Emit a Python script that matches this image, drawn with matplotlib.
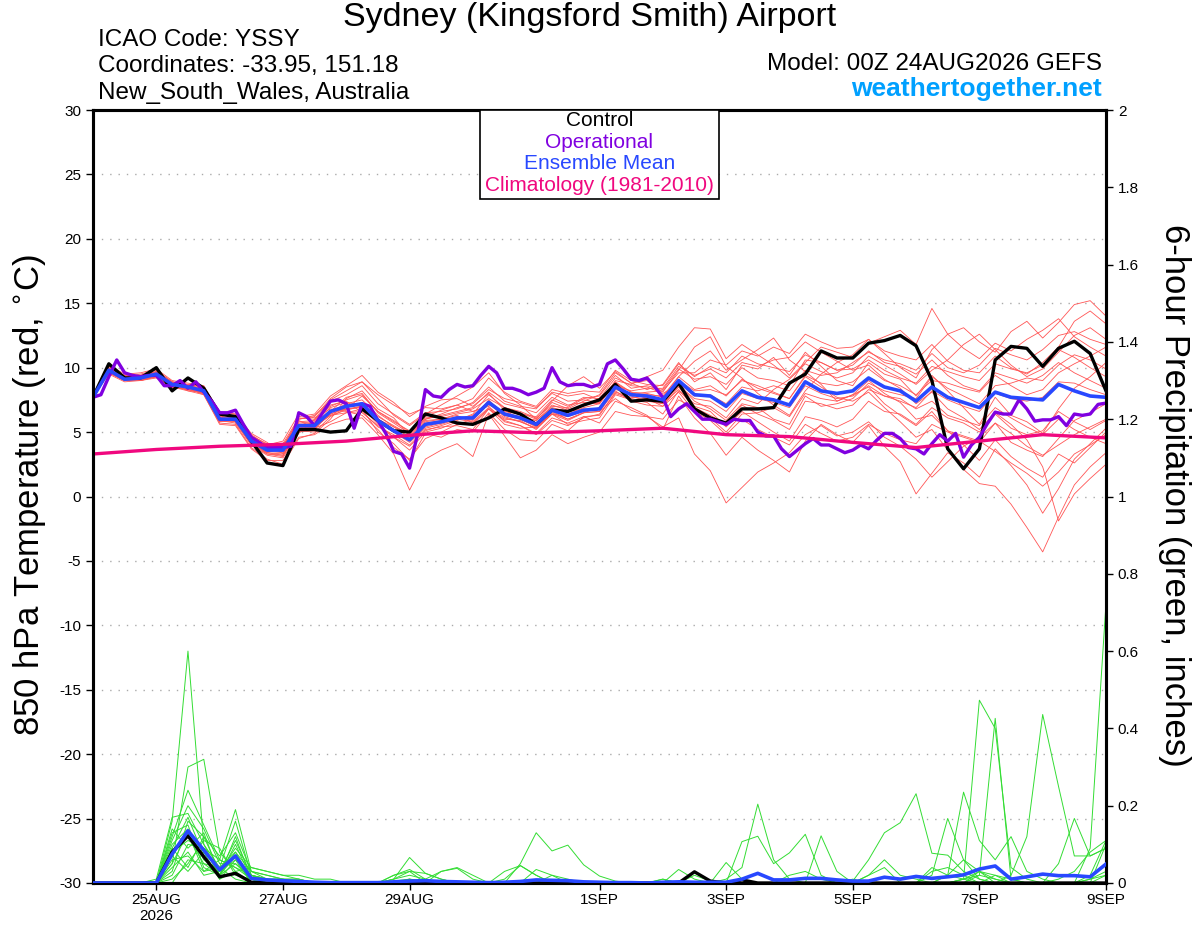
import numpy as np
import matplotlib.pyplot as plt
from matplotlib.patches import Rectangle

plt.rcParams['font.family'] = ['Liberation Sans', 'DejaVu Sans']
plt.rcParams['axes.unicode_minus'] = False

# ---------------------------------------------------------------
# data (6-hourly, 00Z 24AUG -> 00Z 9SEP)
# ---------------------------------------------------------------
tick_days = [1, 3, 5, 8, 10, 12, 14, 16]
tick_labels = ['25AUG\n2026', '27AUG', '29AUG', '1SEP', '3SEP', '5SEP', '7SEP', '9SEP']

# control run, 850 hPa temperature
control_t = [7.7, 10.3, 9.2, 9.2, 10.0, 8.2, 9.2, 8.4, 6.4, 6.2, 4.3, 2.6, 2.4,
             5.2, 5.2, 5.0, 5.1, 6.8, 5.9, 5.1, 5.0, 6.4, 6.1, 5.7, 5.6, 6.1,
             6.8, 6.4, 5.6, 6.7, 6.6, 7.1, 7.5, 8.7, 7.4, 7.5, 7.4, 8.8, 6.8,
             6.1, 5.7, 6.8, 6.8, 6.9, 8.8, 9.5, 11.3, 10.75, 10.75, 11.9, 12.1, 12.5,
             11.7, 9.0, 3.7, 2.15, 3.7, 10.6, 11.65, 11.5, 10.1, 11.5, 12.05, 11.1, 8.2]

# ensemble mean, 850 hPa temperature
mean_t = [7.7, 9.8, 9.1, 9.2, 9.5, 8.7, 8.5, 8.2, 6.0, 6.0, 4.3, 3.6, 3.6,
          5.5, 5.5, 6.6, 7.0, 7.2, 5.9, 5.1, 4.4, 5.6, 5.8, 6.1, 6.1, 7.3,
          6.4, 6.1, 5.6, 6.7, 6.3, 6.7, 6.8, 8.5, 7.9, 7.8, 7.5, 9.0, 7.9,
          7.8, 7.0, 8.2, 7.7, 7.5, 7.1, 8.9, 8.2, 8.0, 8.2, 9.2, 8.5, 8.2,
          7.4, 8.5, 7.7, 7.3, 6.9, 8.1, 7.7, 7.6, 7.5, 8.7, 8.2, 7.8, 7.7]

# operational run (3-hourly)
oper_t = [7.7, 7.9, 9.3, 10.6, 9.6, 9.4, 9.3, 9.4,
          9.4, 8.6, 8.6, 9.0, 8.4, 8.9, 8.1, 7.4,
          6.5, 6.5, 6.7, 5.6, 4.6, 4.2, 3.8, 3.8,
          3.8, 3.9, 6.5, 6.2, 5.5, 6.5, 7.4, 7.5,
          7.2, 5.3, 7.2, 7.0, 5.9, 4.9, 3.5, 3.3,
          2.2, 4.8, 8.3, 7.8, 7.7, 8.3, 8.7, 8.5,
          8.6, 9.4, 10.1, 9.6, 8.4, 8.4, 8.2, 7.9,
          8.1, 8.4, 10.0, 8.9, 8.6, 8.7, 8.7, 8.5,
          8.7, 10.3, 10.6, 9.9, 9.1, 9.0, 9.2, 8.5,
          7.7, 6.2, 6.8, 7.2, 6.6, 6.0, 6.0, 5.8,
          5.6, 6.0, 5.9, 5.9, 5.0, 4.7, 4.7, 3.7,
          3.1, 3.6, 4.1, 4.5, 4.0, 4.0, 3.7, 3.4,
          3.6, 4.0, 3.7, 4.35, 4.9, 4.9, 4.5, 3.8,
          3.7, 3.3, 4.1, 4.8, 4.3, 4.9, 3.05, 4.0,
          4.6, 5.65, 6.55, 6.4, 6.4, 7.5, 6.8, 5.85,
          5.95, 5.95, 6.2, 5.5, 6.4, 6.3, 6.4, 7.15,
          7.25]

# climatology (1981-2010), daily
clim_t = [3.3, 3.65, 3.9, 4.05, 4.3, 4.75, 5.1, 4.95, 5.1,
          5.3, 4.8, 4.65, 4.2, 3.8, 4.3, 4.8, 4.55]

# ensemble members, 850 hPa temperature
members_t = [
    [7.8, 9.9, 9.4, 9.0, 9.3, 8.5, 8.3, 8.0, 6.3, 5.8, 4.0, 3.2, 3.0,
     4.9, 6.0, 7.5, 8.2, 8.9, 7.6, 6.3, 5.5, 6.4, 7.1, 7.8, 8.5, 9.6,
     8.0, 7.1, 6.0, 7.4, 8.6, 9.3, 8.4, 9.7, 8.8, 9.0, 8.1, 9.8, 11.6,
     12.4, 10.1, 9.2, 8.0, 7.1, 6.3, 8.2, 9.5, 10.4, 11.0, 12.2, 11.1, 10.0,
     9.2, 11.4, 12.6, 13.1, 12.0, 11.2, 12.8, 13.6, 12.3, 13.5, 14.9, 15.2, 14.0],
    [7.9, 9.6, 9.0, 9.1, 9.7, 8.9, 8.6, 8.4, 5.8, 6.2, 4.5, 3.9, 3.9,
     5.9, 5.3, 5.8, 6.5, 6.8, 5.0, 4.1, 2.8, 4.9, 4.6, 5.2, 5.0, 6.5,
     5.2, 4.4, 4.3, 5.6, 5.1, 6.2, 5.7, 7.4, 6.9, 6.3, 5.2, 7.8, 6.1,
     4.9, 3.2, 4.6, 3.6, 2.8, 1.9, 4.3, 5.6, 4.8, 4.2, 5.5, 3.9, 2.7,
     0.2, 1.8, 3.4, 2.6, 1.5, 3.7, 2.4, 0.9, -1.3, 0.6, 2.9, 4.1, 5.3],
    [7.6, 9.7, 9.2, 9.4, 9.6, 8.8, 8.2, 8.1, 6.1, 5.9, 4.1, 3.4, 3.8,
     5.8, 5.9, 7.1, 7.4, 6.5, 5.5, 4.6, 3.9, 5.1, 5.5, 5.9, 6.4, 7.9,
     6.9, 6.5, 6.0, 7.3, 6.8, 7.4, 7.9, 9.6, 8.8, 8.3, 8.7, 10.4, 8.9,
     9.6, 8.3, 10.2, 9.9, 10.8, 9.4, 11.2, 10.1, 9.0, 8.6, 10.4, 9.5, 9.1,
     7.8, 9.4, 8.2, 6.9, 5.6, 7.7, 6.3, 5.8, 4.9, 6.8, 8.4, 9.3, 10.4],
    [7.8, 10.1, 9.3, 9.0, 9.2, 8.4, 8.7, 8.5, 6.6, 6.4, 4.9, 4.2, 3.3,
     5.1, 5.0, 6.2, 6.8, 7.8, 6.6, 5.9, 5.0, 6.2, 6.7, 7.1, 6.6, 7.0,
     5.8, 5.5, 4.8, 5.9, 5.5, 6.1, 6.4, 8.0, 7.6, 7.9, 7.8, 9.3, 10.5,
     11.3, 9.8, 10.6, 11.4, 12.3, 10.6, 9.7, 8.7, 7.4, 7.9, 8.5, 7.2, 6.3,
     5.5, 6.6, 5.1, 4.0, 2.8, 4.4, 3.1, 2.2, 1.5, 3.3, 2.6, 3.8, 5.0],
    [7.7, 9.5, 8.9, 9.0, 9.4, 8.6, 8.4, 7.9, 5.7, 5.6, 3.8, 2.9, 2.5,
     4.5, 4.9, 6.0, 7.6, 8.2, 6.8, 6.1, 4.7, 5.8, 6.0, 6.3, 5.7, 6.8,
     6.0, 5.9, 5.2, 6.4, 5.6, 5.9, 6.1, 7.9, 7.5, 7.3, 6.4, 8.2, 7.2,
     7.0, 6.1, 7.6, 7.2, 8.3, 9.1, 10.3, 9.7, 9.2, 9.6, 10.9, 10.2, 9.5,
     8.7, 9.8, 10.6, 11.8, 12.6, 11.4, 10.2, 9.3, 9.9, 11.2, 12.5, 13.1, 12.2],
    [7.8, 9.9, 9.1, 9.3, 9.5, 8.8, 8.5, 8.3, 6.2, 6.1, 4.4, 3.7, 3.5,
     6.2, 6.4, 7.8, 8.6, 9.4, 8.1, 7.3, 6.2, 7.0, 7.5, 7.6, 7.0, 8.0,
     6.7, 6.0, 5.4, 6.6, 6.0, 6.5, 6.6, 8.2, 7.4, 7.1, 7.0, 8.5, 7.0,
     6.6, 5.4, 6.6, 5.8, 5.0, 4.3, 6.2, 5.9, 5.4, 6.0, 7.4, 6.6, 6.4,
     5.6, 6.9, 6.1, 5.7, 5.0, 6.4, 5.3, 4.8, 5.1, 6.6, 5.8, 5.2, 5.9],
    [7.7, 9.8, 9.2, 9.3, 9.6, 8.7, 8.5, 8.2, 6.0, 6.1, 4.2, 3.5, 3.4,
     5.3, 5.6, 6.4, 6.9, 7.3, 6.0, 5.4, 4.9, 6.0, 6.3, 6.6, 6.9, 8.1,
     7.2, 6.9, 6.5, 7.7, 7.1, 7.3, 7.2, 8.8, 8.1, 8.0, 7.7, 9.3, 8.3,
     8.6, 7.8, 9.1, 8.4, 8.0, 7.6, 9.3, 8.5, 7.7, 7.4, 8.1, 6.9, 5.8,
     4.6, 5.2, 3.6, 2.1, 1.0, 0.8, -0.6, -2.4, -4.3, -1.6, 0.9, 2.3, 3.4],
    [7.9, 10.2, 9.5, 9.6, 9.9, 9.0, 8.8, 8.6, 6.5, 6.6, 4.8, 4.0, 4.3,
     6.4, 6.1, 6.8, 6.6, 6.3, 5.2, 3.8, 2.9, 4.5, 5.0, 5.6, 6.0, 7.5,
     6.3, 6.2, 5.9, 7.0, 6.9, 7.6, 7.8, 9.4, 8.4, 8.6, 8.3, 9.9, 9.1,
     9.3, 8.7, 10.0, 9.2, 9.0, 8.6, 10.6, 10.4, 9.8, 10.2, 11.3, 10.4, 10.1,
     9.5, 10.6, 9.4, 8.6, 8.2, 9.6, 9.2, 8.8, 9.4, 10.4, 9.6, 9.0, 8.4],
    [7.7, 9.6, 9.0, 9.0, 9.3, 8.5, 8.2, 7.9, 5.6, 5.5, 3.7, 2.8, 2.8,
     4.6, 4.8, 5.6, 6.0, 6.1, 4.8, 3.3, 0.5, 2.9, 3.6, 4.1, 3.1, 6.4,
     4.7, 3.0, 3.6, 4.8, 4.1, 4.6, 5.0, 6.6, 6.3, 6.2, 6.0, 7.5, 6.9,
     6.3, 5.6, 7.1, 6.4, 5.9, 5.2, 7.4, 7.2, 6.8, 7.1, 8.3, 7.8, 7.4,
     6.9, 8.2, 7.5, 7.0, 6.6, 8.0, 7.6, 7.4, 7.7, 8.9, 8.8, 8.3, 7.9],
    [7.8, 9.7, 9.3, 9.5, 9.8, 8.9, 8.6, 8.2, 5.9, 6.0, 4.6, 3.8, 3.7,
     5.7, 5.8, 6.9, 7.3, 7.1, 6.2, 5.5, 4.8, 5.9, 6.0, 6.4, 6.6, 7.1,
     6.6, 6.4, 6.2, 7.5, 7.0, 7.7, 7.6, 9.2, 8.6, 8.5, 8.0, 8.7, 7.4,
     6.8, 5.9, 7.2, 6.9, 6.0, 5.6, 7.8, 7.0, 7.2, 7.6, 8.8, 8.2, 7.9,
     7.6, 9.3, 8.4, 7.8, 7.2, 8.6, 8.8, 9.2, 9.0, 10.2, 11.0, 10.6, 9.9],
    [7.8, 9.9, 9.2, 9.1, 9.4, 8.6, 8.4, 8.1, 6.1, 5.9, 4.2, 3.3, 3.2,
     5.0, 5.2, 6.5, 7.2, 7.5, 6.3, 5.4, 4.6, 5.7, 5.9, 6.2, 5.9, 7.2,
     6.3, 6.0, 5.5, 6.8, 6.4, 6.9, 7.2, 9.0, 8.7, 9.3, 9.8, 11.6, 13.1,
     13.0, 10.7, 11.8, 11.0, 10.2, 9.2, 10.4, 11.6, 11.2, 10.8, 11.9, 12.4, 12.9,
     11.8, 14.6, 12.6, 11.5, 10.7, 11.9, 11.3, 12.2, 12.9, 13.8, 12.4, 11.6, 10.9],
    [7.6, 9.7, 9.0, 9.2, 9.5, 8.7, 8.6, 8.3, 6.2, 5.8, 4.3, 3.6, 3.7,
     5.6, 5.7, 6.7, 7.1, 7.0, 5.8, 5.0, 4.3, 5.4, 5.7, 6.0, 6.3, 7.4,
     6.5, 6.2, 5.9, 6.9, 6.6, 6.8, 6.6, 7.6, 6.7, 6.2, 5.4, 6.1, 3.3,
     2.0, -0.5, 0.7, 1.9, 2.6, 3.4, 4.8, 5.5, 4.7, 5.0, 5.8, 4.6, 3.9,
     2.9, 1.5, 2.7, 3.9, 4.6, 5.7, 4.2, 3.6, 3.1, 4.5, 5.9, 6.5, 7.2],
    [7.7, 10.0, 9.3, 9.3, 9.6, 8.8, 8.5, 8.1, 6.0, 6.2, 4.4, 3.8, 3.9,
     6.0, 6.3, 7.4, 7.9, 8.6, 7.2, 6.4, 5.6, 6.5, 6.6, 6.8, 7.3, 8.5,
     7.4, 7.0, 6.8, 8.1, 7.8, 8.0, 7.5, 8.9, 7.8, 7.4, 7.2, 8.6, 7.6,
     7.4, 6.6, 8.0, 7.6, 7.3, 6.9, 8.6, 8.0, 7.6, 7.8, 8.6, 7.8, 7.6,
     6.8, 7.4, 6.3, 5.9, 5.5, 6.9, 6.1, 5.4, 4.8, 6.0, 5.2, 4.6, 4.1],
    [7.8, 9.8, 9.1, 9.2, 9.4, 8.6, 8.3, 8.0, 5.9, 5.7, 4.0, 3.3, 3.1,
     5.2, 5.4, 6.3, 6.5, 6.6, 5.4, 4.8, 4.0, 5.2, 5.4, 5.5, 5.2, 6.8,
     5.9, 5.5, 4.9, 6.1, 5.7, 6.2, 6.3, 8.1, 7.7, 7.6, 7.3, 8.8, 7.8,
     7.9, 7.2, 8.5, 8.2, 8.6, 8.2, 9.8, 9.4, 9.6, 10.4, 11.2, 10.6, 10.3,
     9.8, 11.1, 10.0, 9.6, 10.2, 11.5, 11.0, 10.6, 11.4, 12.5, 12.8, 12.2, 11.8],
    [7.7, 9.6, 9.0, 9.1, 9.3, 8.6, 8.4, 8.3, 6.3, 6.3, 4.7, 4.1, 4.0,
     5.6, 5.5, 6.3, 6.7, 7.0, 5.9, 5.0, 4.2, 5.3, 5.6, 6.0, 5.8, 6.9,
     6.1, 5.8, 5.3, 6.4, 5.9, 6.5, 6.9, 8.6, 8.2, 8.4, 8.4, 10.1, 9.4,
     9.9, 9.2, 10.4, 10.1, 10.6, 10.8, 12.0, 11.2, 10.5, 9.8, 10.2, 9.1, 8.4,
     7.2, 8.1, 6.8, 6.1, 5.2, 6.5, 5.6, 4.4, 2.3, -1.9, 0.2, 1.4, 2.5],
    [7.8, 9.8, 9.2, 9.2, 9.5, 8.7, 8.6, 8.4, 6.3, 6.3, 4.6, 3.9, 4.1,
     6.1, 6.0, 7.0, 7.5, 7.9, 6.6, 5.8, 5.1, 6.1, 6.2, 6.5, 6.8, 7.6,
     6.9, 6.6, 6.1, 7.1, 6.7, 7.1, 7.3, 8.9, 8.1, 7.6, 7.0, 8.1, 6.6,
     5.9, 4.8, 6.0, 5.2, 4.6, 4.0, 5.6, 4.9, 4.3, 4.6, 5.6, 4.9, 4.4,
     4.1, 5.6, 5.0, 4.6, 4.2, 5.7, 4.9, 3.9, 3.2, 4.0, 4.8, 5.4, 6.0],
    [7.6, 9.9, 9.3, 9.4, 9.7, 8.8, 8.5, 8.0, 5.8, 5.9, 4.1, 3.4, 3.3,
     5.4, 5.3, 6.6, 7.7, 8.0, 6.5, 5.7, 4.9, 6.0, 6.4, 6.9, 7.2, 8.3,
     7.6, 7.3, 6.9, 8.0, 7.4, 7.5, 7.3, 8.7, 7.9, 8.1, 8.2, 9.6, 9.6,
     10.6, 10.2, 11.3, 10.9, 11.6, 11.1, 12.6, 12.0, 11.5, 11.6, 12.2, 11.3, 10.9,
     10.6, 11.8, 10.5, 9.8, 9.6, 10.9, 10.0, 9.5, 10.4, 11.6, 13.6, 14.4, 13.4],
    [7.8, 9.7, 9.0, 9.3, 9.5, 8.7, 8.4, 8.2, 6.1, 6.0, 4.4, 3.7, 3.6,
     5.5, 5.5, 6.6, 6.8, 6.9, 5.6, 4.6, 3.6, 5.0, 5.3, 5.8, 5.6, 6.8,
     5.6, 5.3, 5.4, 6.4, 6.2, 6.6, 6.8, 8.3, 8.0, 7.6, 7.2, 8.3, 6.9,
     6.1, 5.0, 6.4, 6.5, 6.9, 6.2, 8.0, 7.6, 7.4, 7.9, 9.0, 8.0, 7.3,
     6.0, 6.3, 5.1, 4.7, 4.3, 3.5, 2.6, 1.8, 0.8, 1.9, 3.3, 4.0, 4.8],
    [7.7, 10.0, 9.4, 9.4, 9.7, 8.9, 8.7, 8.5, 6.4, 6.4, 4.7, 3.9, 3.9,
     6.0, 6.2, 7.6, 8.5, 8.9, 7.9, 7.1, 6.4, 6.9, 6.8, 7.1, 7.6, 9.2,
     8.1, 7.4, 7.0, 8.3, 8.0, 8.2, 8.1, 9.8, 9.0, 8.7, 8.6, 10.3, 9.3,
     10.1, 9.6, 10.9, 10.3, 10.0, 9.7, 11.0, 10.4, 9.8, 9.9, 10.6, 9.8, 9.2,
     8.8, 10.1, 9.7, 9.3, 9.0, 10.3, 9.9, 9.6, 10.2, 11.4, 10.8, 10.0, 9.3],
    [7.8, 9.8, 9.1, 9.1, 9.3, 8.5, 8.3, 8.1, 5.9, 5.8, 4.2, 3.4, 3.2,
     5.2, 5.4, 6.4, 6.8, 7.0, 5.8, 5.2, 4.5, 5.6, 5.7, 6.1, 6.0, 7.2,
     6.2, 5.8, 5.3, 6.5, 6.0, 6.5, 6.6, 8.4, 7.9, 7.7, 7.5, 9.0, 8.2,
     8.3, 7.9, 9.0, 8.6, 8.1, 7.6, 9.4, 8.8, 8.6, 8.9, 9.9, 9.0, 8.6,
     7.9, 9.0, 8.8, 8.4, 8.1, 9.4, 8.6, 7.9, 8.3, 9.6, 10.3, 10.9, 11.6],
]

# 6-hour precipitation (inches)
control_p = [0, 0, 0, 0, 0, .08, .122, .068, .016, .025, .002, 0, 0,
             0, 0, 0, 0, 0, 0, 0, 0, 0, 0, 0, 0, 0,
             0, 0, 0, 0, 0, 0, 0, 0, 0, 0, 0, 0, .029,
             .005, 0, .008, 0, 0, 0, 0, 0, 0, 0, 0, 0, 0,
             0, 0, 0, 0, 0, 0, 0, 0, 0, 0, 0, 0, 0]

mean_p = [0, 0, 0, 0, 0, .075, .135, .085, .034, .07, .012, .008, .006,
          .004, .002, .001, .001, .001, .001, .003, .005, .006, .004, .003, .002, .001,
          .002, .004, .008, .007, .006, .003, .002, .001, .001, 0, .002, .003, .002,
          .002, .002, .01, .025, .008, .008, .012, .012, .008, .005, .005, .015, .01,
          .017, .012, .016, .021, .036, .044, .01, .016, .023, .019, .019, .016, .049]

members_p = [
    [0, 0, 0, 0, 0, .16, .60, .10, .02, .05, .01, 0, 0,
     0, 0, 0, 0, 0, 0, .01, .02, .01, 0, 0, 0, 0,
     0, 0, 0, 0, 0, 0, 0, 0, 0, 0, 0, 0, 0,
     0, 0, 0, 0, 0, 0, 0, 0, 0, .01, 0, 0, 0,
     0, 0, 0, .01, .02, .01, 0, 0, 0, 0, 0, 0, .02],
    [0, 0, 0, 0, 0, .05, .30, .32, .08, .03, .04, .03, .02,
     .02, .01, .01, 0, 0, 0, 0, .01, 0, 0, 0, 0, 0,
     0, 0, 0, 0, 0, 0, 0, 0, 0, 0, 0, .035, .01,
     0, 0, 0, 0, 0, 0, 0, 0, 0, 0, 0, 0, 0,
     0, 0, .02, .06, .03, .01, 0, 0, 0, 0, 0, .01, .02],
    [0, 0, 0, 0, 0, .12, .24, .15, .06, .19, .03, .01, .01,
     0, 0, 0, 0, 0, 0, .02, .035, .01, .03, .038, .01, 0,
     .01, .045, .02, 0, 0, 0, 0, 0, 0, 0, 0, 0, 0,
     0, .053, .01, 0, 0, 0, 0, 0, 0, .005, .06, .13, .156,
     .231, .077, .072, .03, .01, 0, 0, 0, 0, 0, 0, .01, .03],
    [0, 0, 0, 0, .01, .17, .18, .10, .04, .16, .02, .01, 0,
     0, 0, 0, 0, 0, 0, .005, .01, .005, 0, 0, 0, 0,
     0, .05, .13, .083, .098, .047, .018, .005, 0, 0, 0, 0, 0,
     0, 0, 0, 0, 0, 0, 0, 0, 0, 0, 0, 0, 0,
     0, 0, .02, .235, .11, .06, .12, .03, .01, 0, 0, 0, .10],
    [0, 0, 0, 0, 0, .03, .16, .12, .07, .13, .03, .02, .01,
     .01, 0, 0, 0, 0, 0, 0, 0, 0, 0, 0, 0, 0,
     0, 0, 0, 0, 0, 0, 0, 0, 0, 0, 0, 0, 0,
     0, .01, .04, .204, .06, .01, 0, 0, 0, 0, 0, 0, 0,
     0, 0, 0, .01, .473, .40, .04, .01, 0, 0, 0, .02, .11],
    [0, 0, 0, 0, 0, .08, .12, .05, .02, .10, .01, 0, 0,
     0, 0, 0, 0, 0, 0, .01, .03, .025, .01, 0, 0, 0,
     0, 0, 0, 0, 0, 0, 0, 0, 0, 0, 0, 0, 0,
     0, 0, .107, .121, .05, .078, .126, .02, 0, 0, 0, 0, 0,
     0, 0, 0, 0, 0, 0, 0, 0, 0, 0, 0, 0, 0],
    [0, 0, 0, 0, 0, .02, .10, .09, .06, .04, .02, .01, .01,
     .01, 0, 0, 0, 0, 0, 0, 0, 0, 0, 0, 0, 0,
     .03, .045, .02, 0, 0, 0, 0, 0, 0, 0, 0, 0, 0,
     0, 0, 0, 0, 0, 0, 0, .122, .03, 0, 0, 0, 0,
     0, .02, .167, .06, .01, 0, 0, 0, 0, 0, 0, 0, 0],
    [0, 0, 0, 0, 0, .14, .09, .13, .02, .07, 0, 0, 0,
     0, 0, 0, 0, 0, 0, 0, 0, 0, 0, 0, 0, 0,
     0, 0, 0, .02, .01, 0, 0, 0, 0, 0, 0, 0, 0,
     0, 0, 0, 0, 0, 0, 0, 0, 0, 0, 0, 0, 0,
     0, 0, 0, 0, .02, .426, .01, 0, 0, 0, 0, .09, .723],
    [0, 0, 0, 0, 0, .06, .07, .03, .04, .08, .01, 0, 0,
     0, 0, 0, 0, 0, 0, .01, .066, .025, .01, 0, 0, 0,
     0, 0, 0, 0, 0, 0, 0, 0, 0, 0, 0, 0, 0,
     0, 0, 0, 0, 0, 0, 0, 0, 0, 0, 0, 0, 0,
     0, 0, 0, 0, 0, 0, .02, .12, .436, .25, .07, .07, .09],
    [0, 0, 0, 0, 0, .10, .14, .06, .03, .11, .02, .01, 0,
     0, 0, 0, 0, 0, 0, 0, .01, 0, 0, 0, 0, 0,
     0, 0, 0, 0, 0, 0, 0, 0, 0, 0, 0, 0, 0,
     0, 0, 0, 0, 0, 0, 0, 0, 0, 0, 0, 0, 0,
     0, 0, 0, 0, 0, 0, 0, 0, 0, .05, .167, .07, .09],
    [0, 0, 0, 0, 0, .01, .05, .11, .09, .02, .01, 0, 0,
     0, 0, 0, 0, 0, 0, 0, 0, 0, .03, .04, .02, 0,
     0, 0, 0, 0, 0, 0, 0, 0, 0, 0, 0, 0, 0,
     0, 0, 0, 0, 0, 0, 0, 0, 0, 0, .02, .06, .02,
     .01, 0, 0, 0, 0, 0, 0, 0, 0, 0, 0, 0, 0],
    [0, 0, 0, 0, 0, .09, .17, .07, .01, .06, 0, 0, 0,
     0, 0, 0, 0, 0, 0, 0, 0, 0, 0, 0, 0, 0,
     0, 0, 0, 0, 0, 0, 0, 0, 0, 0, 0, 0, 0,
     0, 0, 0, 0, 0, 0, 0, 0, 0, 0, 0, 0, 0,
     0, 0, 0, .01, .03, .02, 0, 0, 0, .01, .03, .08, .11],
    [0, 0, 0, 0, 0, .04, .08, .02, .03, .09, .04, .03, .02,
     .01, 0, 0, 0, 0, 0, 0, 0, 0, 0, 0, 0, 0,
     0, 0, .035, .02, 0, 0, 0, 0, 0, 0, 0, 0, 0,
     0, 0, 0, 0, 0, 0, 0, 0, 0, 0, 0, 0, 0,
     0, 0, 0, 0, 0, 0, 0, 0, 0, 0, 0, 0, 0],
    [0, 0, 0, 0, 0, .11, .20, .14, .05, .05, .02, .01, 0,
     0, 0, 0, 0, 0, 0, 0, 0, 0, 0, 0, 0, 0,
     0, 0, 0, 0, 0, 0, 0, 0, 0, 0, .01, 0, 0,
     0, 0, 0, 0, 0, 0, 0, 0, 0, 0, 0, 0, 0,
     0, .04, .02, .01, 0, 0, 0, 0, 0, 0, 0, 0, 0],
    [0, 0, 0, 0, 0, .07, .03, .08, .01, .03, 0, 0, 0,
     0, 0, 0, 0, 0, 0, 0, 0, 0, 0, 0, 0, 0,
     0, 0, 0, 0, 0, 0, 0, 0, 0, 0, 0, 0, 0,
     0, 0, 0, 0, 0, 0, 0, 0, 0, 0, .02, .04, 0,
     0, 0, 0, 0, .03, 0, 0, 0, 0, 0, 0, 0, 0],
    [0, 0, 0, 0, 0, .13, .15, .04, .02, .12, .01, 0, 0,
     0, 0, 0, 0, 0, 0, .02, .03, 0, 0, 0, 0, 0,
     0, 0, 0, 0, 0, 0, 0, 0, 0, 0, 0, 0, 0,
     0, 0, 0, 0, 0, 0, 0, 0, 0, 0, 0, 0, 0,
     0, 0, 0, 0, 0, 0, 0, 0, 0, 0, 0, 0, 0],
    [0, 0, 0, 0, 0, 0, .06, .05, .04, .01, 0, 0, 0,
     0, 0, 0, 0, 0, 0, 0, 0, 0, 0, 0, 0, 0,
     0, 0, 0, 0, 0, 0, 0, 0, 0, 0, .01, 0, 0,
     0, 0, 0, 0, 0, 0, 0, 0, 0, 0, 0, 0, 0,
     0, 0, 0, 0, 0, .02, .01, 0, 0, 0, 0, 0, 0],
    [0, 0, 0, 0, 0, .08, .11, .09, .02, .08, .03, .02, .01,
     0, 0, 0, 0, 0, 0, 0, 0, 0, 0, 0, 0, 0,
     0, 0, 0, 0, 0, 0, 0, 0, 0, 0, 0, 0, 0,
     0, 0, 0, 0, 0, .02, .03, .01, 0, 0, 0, 0, 0,
     0, 0, 0, 0, 0, 0, 0, 0, 0, 0, 0, 0, 0],
    [0, 0, 0, 0, 0, .05, .13, .03, .06, .04, .01, 0, 0,
     0, 0, 0, 0, 0, 0, 0, 0, 0, 0, 0, 0, 0,
     0, 0, 0, 0, 0, 0, 0, 0, 0, 0, 0, 0, 0,
     0, 0, 0, 0, 0, 0, 0, 0, 0, 0, 0, 0, 0,
     0, .03, .04, .02, 0, 0, 0, 0, 0, 0, 0, 0, 0],
    [0, 0, 0, 0, 0, .09, .04, .12, .03, .06, .02, 0, 0,
     0, 0, 0, 0, 0, 0, 0, 0, 0, 0, 0, 0, 0,
     0, 0, 0, 0, 0, 0, 0, 0, 0, 0, 0, 0, .02,
     .005, 0, 0, 0, 0, 0, 0, 0, 0, 0, 0, 0, 0,
     0, 0, 0, 0, 0, 0, 0, 0, 0, 0, 0, 0, 0],
]

# time axes in days since 00Z 24AUG
t6 = np.arange(len(mean_t)) / 4.0
t3 = np.arange(len(oper_t)) / 8.0
tday = np.arange(len(clim_t))

RED = '#ff5555'
GREEN = '#33dd33'
PURPLE = '#8000e0'
BLUE = '#2848ff'
PINK = '#f0087f'

fig = plt.figure(figsize=(12, 9.27), dpi=100)
ax = fig.add_axes([93 / 1200, 44 / 927, 1013 / 1200, 773 / 927])
ax2 = ax.twinx()

# temperature (left axis)
for m in members_t:
    ax.plot(t6, m, color=RED, lw=0.6, zorder=2)
ax.plot(t6, control_t, color='black', lw=2.4, zorder=4)
ax.plot(t3, oper_t, color=PURPLE, lw=2.4, zorder=5)
ax.plot(t6, mean_t, color=BLUE, lw=2.6, zorder=6)
ax.plot(tday, clim_t, color=PINK, lw=2.4, zorder=7)

ax.set_xlim(0, 16)
ax.set_ylim(-30, 30)
ax.set_yticks(np.arange(-30, 31, 5))
for y in np.arange(-25, 30, 5):
    ax.axhline(y, color='#aaaaaa', lw=1.0, ls=(0, (1, 5)), zorder=1)
ax.set_xticks(tick_days)
ax.set_xticklabels(tick_labels, fontsize=11)
ax.tick_params(axis='y', labelsize=11, direction='out', length=5, width=1)
ax.tick_params(axis='x', direction='out', length=5, width=1, pad=2)

# precipitation (right axis)
for m in members_p:
    ax2.plot(t6, m, color=GREEN, lw=0.7, zorder=2)
ax2.plot(t6, control_p, color='black', lw=2.4, zorder=4)
ax2.plot(t6, mean_p, color=BLUE, lw=2.6, zorder=5)
ax2.set_ylim(0, 2)
ax2.set_yticks(np.arange(0, 2.01, 0.2))
ax2.set_yticklabels([f'{v:g}' for v in np.round(np.arange(0, 2.01, 0.2), 1)])
ax2.tick_params(axis='y', labelsize=11, direction='out', length=5, width=1)

for a in (ax, ax2):
    for s in a.spines.values():
        s.set_linewidth(2.2)

# axis titles placed in figure pixels
fig.text(30 / 1200, 1 - 495 / 927, r'850 hPa Temperature (red, $^{\circ}$C)',
         fontsize=25, rotation=90, ha='center', va='center')
fig.text(1175 / 1200, 1 - 495 / 927, '6-hour Precipitation (green, inches)',
         fontsize=25, rotation=270, ha='center', va='center')

# legend box
ax2.add_patch(Rectangle((0.382, 0.885), 0.236, 0.115, transform=ax2.transAxes,
                        facecolor='white', edgecolor='black', lw=1.2, zorder=10))
legend_items = [('Control', 'black'), ('Operational', PURPLE),
                ('Ensemble Mean', BLUE), ('Climatology (1981-2010)', PINK)]
for i, (txt, col) in enumerate(legend_items):
    ax2.text(0.5, 0.986 - i * 0.0278, txt, color=col, fontsize=15,
             ha='center', va='center', transform=ax2.transAxes, zorder=11)

# header text
fig.text(0.4917, 0.981, 'Sydney (Kingsford Smith) Airport', fontsize=24.5,
         ha='center', va='center')
fig.text(0.0817, 0.957, 'ICAO Code: YSSY', fontsize=17.5, va='center')
fig.text(0.0817, 0.929, 'Coordinates: -33.95, 151.18', fontsize=17.5, va='center')
fig.text(0.0817, 0.900, 'New_South_Wales, Australia', fontsize=17.5, va='center')
fig.text(0.9183, 0.931, 'Model: 00Z 24AUG2026 GEFS', fontsize=17.5,
         ha='right', va='center')
fig.text(0.9183, 0.904, 'weathertogether.net', fontsize=19, fontweight='bold',
         color='#00a0ff', ha='right', va='center')

fig.savefig('out.png', dpi=100)
